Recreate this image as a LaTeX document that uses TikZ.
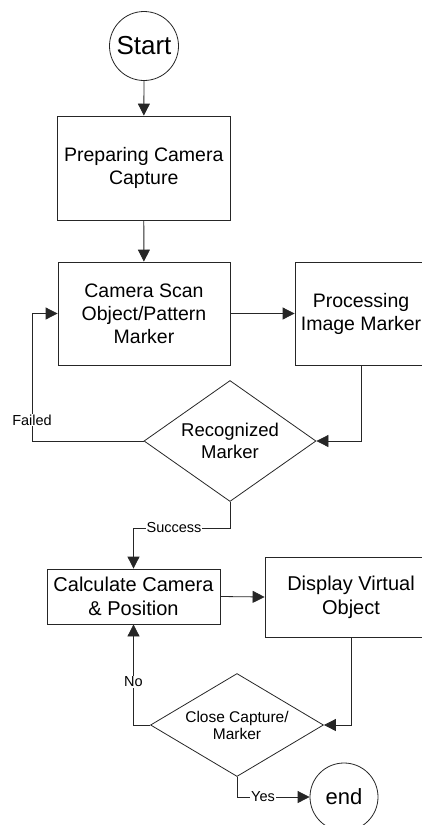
\documentclass[tikz,border=0pt]{standalone}
\usepackage{fontspec}
\setmainfont{Liberation Sans}
\usetikzlibrary{shapes.geometric,arrows.meta}
\begin{document}
\begin{tikzpicture}[x=1pt,y=-1pt,
  line width=0.8pt,
  every node/.style={draw=black!85, inner sep=0pt, align=center},
  boxnode/.style={rectangle, font=\fontsize{19.5}{23}\selectfont},
  decision/.style={diamond, aspect=1.4},
  term/.style={circle},
  lbl/.style={draw=none, fill=white, inner sep=1pt, font=\fontsize{14.5}{16}\selectfont},
  conn/.style={draw=black!85, line width=0.8pt, -{Triangle[length=12pt,width=12pt]}},
  plain/.style={draw=black!85, line width=0.8pt}]
\useasboundingbox (0,0) rectangle (422,825);
\node[term, minimum size=69pt, font=\fontsize{26}{28}\selectfont] (start) at (144,46) {Start};
\node[boxnode, minimum width=172.5pt, minimum height=104pt] (prep) at (143.75,168) {Preparing Camera\\Capture};
\node[boxnode, minimum width=172pt, minimum height=103pt] (scan) at (144,313.5) {Camera Scan\\Object/Pattern\\Marker};
\node[boxnode, minimum width=132pt, minimum height=103pt] (proc) at (361,313.5) {Processing\\Image Marker};
\node[decision, minimum width=172pt, minimum height=121pt, font=\fontsize{18.5}{21.7}\selectfont] (recog) at (230,441) {Recognized\\Marker};
\node[boxnode, minimum width=173pt, minimum height=55pt, font=\fontsize{20}{24}\selectfont] (calc) at (133.5,596.5) {Calculate Camera\\\& Position};
\node[boxnode, minimum width=172pt, minimum height=80pt, font=\fontsize{20}{24}\selectfont] (disp) at (351,597) {Display Virtual\\Object};
\node[decision, minimum width=173pt, minimum height=103pt, font=\fontsize{15.5}{17}\selectfont] (close) at (237,725) {Close Capture/\\Marker};
\node[term, minimum size=68pt, font=\fontsize{22}{24}\selectfont] (end) at (344,797) {end};

\coordinate (failc) at (32,441);
\coordinate (succc) at (230,528);

\draw[conn] (start) -- (prep);
\draw[conn] (prep) -- (scan);
\draw[conn] (scan.east) -- (proc.west);
\draw[conn] (proc.south) |- (recog.east);
\draw[conn] (recog.west) -- (failc) |- (scan.west);
\draw[conn] (recog.south) -- (succc) -| (calc.north);
\draw[conn] (calc.east) -- (disp.west);
\draw[conn] (disp.south) |- (close.east);
\draw[conn] (close.west) -| (calc.south);
\draw[conn] (close.south) |- (end.west);

\node[lbl] (lfail) at (32,420) {Failed};
\node[lbl] (lsucc) at (174,528) {Success};
\node[lbl] (lno) at (133.5,682) {No};
\node[lbl] (lyes) at (263,797) {Yes};
\end{tikzpicture}
\end{document}
